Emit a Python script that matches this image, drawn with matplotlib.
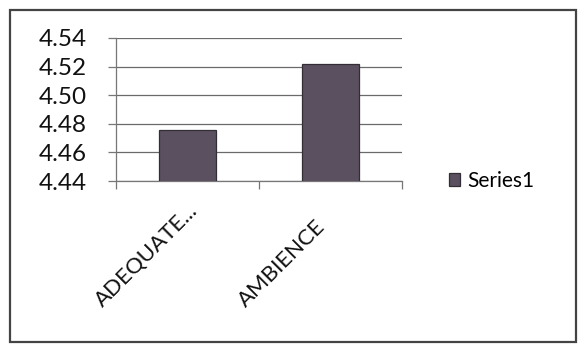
import matplotlib
matplotlib.use("Agg")
import matplotlib.pyplot as plt
import matplotlib.transforms as mtransforms
from matplotlib.patches import Rectangle

categories = ["ADEQUATE...", "AMBIENCE"]
values = [4.476, 4.522]
series_name = "Series1"
yticks = [4.44, 4.46, 4.48, 4.50, 4.52, 4.54]

plt.rcParams['font.family'] = ['Lato', 'DejaVu Sans']

W, H = 584, 347
fig = plt.figure(figsize=(W / 100, H / 100), dpi=100)
ax = fig.add_axes([116 / W, 1 - 181 / H, (402 - 116) / W, (181 - 38) / H])

x = list(range(len(categories)))
bars = ax.bar(x, values, width=0.40, color="#5a5060", edgecolor="#332d35",
              linewidth=0.9, label=series_name, zorder=3)

ax.set_xlim(-0.5, len(categories) - 0.5)
ax.set_ylim(yticks[0], yticks[-1])
ax.set_yticks(yticks)
ax.set_yticklabels([f"{t:.2f}" for t in yticks], fontsize=17.5, color="#111111")
ax.yaxis.grid(True, color="#6a6a6a", linewidth=0.9, zorder=0)
ax.tick_params(axis='y', length=6, color="#777777", width=0.9, pad=15)

# category boundaries as tick marks
ax.set_xticks([i - 0.5 for i in range(len(categories) + 1)])
ax.set_xticklabels([])
ax.tick_params(axis='x', length=6, color="#777777", width=0.9, direction='out')

for side in ['top', 'right']:
    ax.spines[side].set_visible(False)
for side in ['left', 'bottom']:
    ax.spines[side].set_color("#777777")
    ax.spines[side].set_linewidth(0.9)

# rotated category labels
for i, cat in enumerate(categories):
    tr = ax.get_xaxis_transform() + mtransforms.ScaledTranslation(
        -85 / 100, -127 / 100, fig.dpi_scale_trans)
    ax.text(i, 0, cat, transform=tr, rotation=45, rotation_mode='anchor',
            ha='left', va='baseline', fontsize=16, color="#111111", clip_on=False)

leg = fig.legend(handles=[bars], labels=[series_name], loc='center left',
                 bbox_to_anchor=(430 / W, 1 - 181 / H), frameon=False,
                 fontsize=15, handlelength=0.55, handleheight=0.55,
                 handletextpad=0.35)

# outer chart border
fig.patches.append(Rectangle((10 / W, 1 - 342 / H), (576 - 10) / W, (342 - 10) / H,
                             transform=fig.transFigure, fill=False,
                             edgecolor="#444444", linewidth=1.6))

fig.savefig("out.png", dpi=100)
